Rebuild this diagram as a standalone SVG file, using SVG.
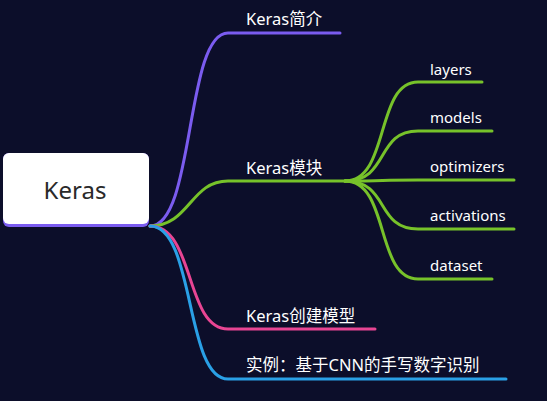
<svg xmlns="http://www.w3.org/2000/svg" width="547" height="401" viewBox="0 0 547 401">
<style>
.c{fill:none;stroke-width:3;stroke-linecap:round}
.t{font-family:"Noto Sans","Noto Sans CJK SC",sans-serif;fill:#ffffff}
.m{font-size:16.5px}
.s{font-size:15px}
</style>
<rect x="0" y="0" width="547" height="401" fill="#0c0e2a"/>
<g id="connectors">
<path class="c" stroke="#7b5cf0" d="M150,226 C195,226 185,33 228,33 L340,33"/>
<path class="c" stroke="#77c22a" d="M150,226 C190,226 190,181 228,181 L345,181"/>
<path class="c" stroke="#e84593" d="M150,226 C195,226 185,329 228,329 L375,329"/>
<path class="c" stroke="#2aa0e6" d="M150,226 C195,226 185,379 228,379 L506,379"/>
<path class="c" stroke="#77c22a" d="M345,181 C390,181 375,82 418,82 L482,82"/>
<path class="c" stroke="#77c22a" d="M345,181 C390,181 375,131 418,131 L492,131"/>
<path class="c" stroke="#77c22a" d="M345,181 C390,181 375,180 418,180 L514,180"/>
<path class="c" stroke="#77c22a" d="M345,181 C390,181 375,229 418,229 L514,229"/>
<path class="c" stroke="#77c22a" d="M345,181 C390,181 375,279 418,279 L492,279"/>
</g>
<g id="root">
<rect x="3" y="153" width="146" height="74" rx="6" fill="#7b5cf0"/>
<rect x="3" y="153" width="146" height="71" rx="6" fill="#ffffff"/>
<text x="75" y="199" text-anchor="middle" font-family="Noto Sans, sans-serif" font-size="24" fill="#2a2a2a">Keras</text>
</g>
<g id="n1"><text class="t m" x="246" y="25">Keras简介</text></g>
<g id="n2"><text class="t m" x="246" y="174">Keras模块</text></g>
<g id="n3"><text class="t m" x="246" y="322">Keras创建模型</text></g>
<g id="n4"><text class="t m" x="246" y="371">实例：基于CNN的手写数字识别</text></g>
<g id="n21"><text class="t s" x="430" y="75">layers</text></g>
<g id="n22"><text class="t s" x="430" y="123">models</text></g>
<g id="n23"><text class="t s" x="430" y="172">optimizers</text></g>
<g id="n24"><text class="t s" x="430" y="221">activations</text></g>
<g id="n25"><text class="t s" x="430" y="271">dataset</text></g>
</svg>
